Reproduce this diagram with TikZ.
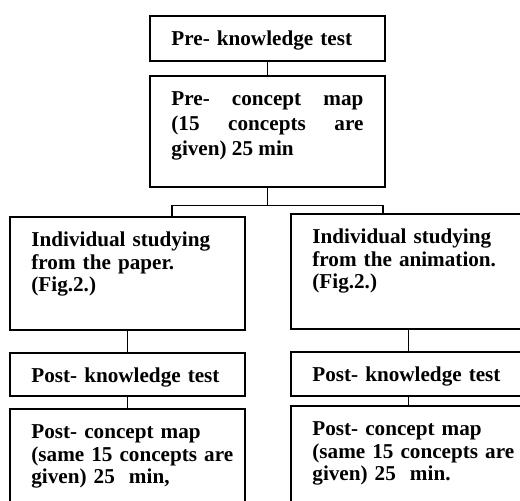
\documentclass[tikz,border=0pt]{standalone}
\usepackage{fontspec}
\setmainfont{Liberation Serif}
\usepackage{tikz}
\usetikzlibrary{calc,positioning}
\tikzset{
block/.style={
  rectangle,
  draw,
  line width=1.1pt,
  text width=115.2pt,
  inner xsep=12.9pt,
  inner ysep=0pt,
  text height=18pt,
  align=left,
  anchor=north west,
  font=\fontsize{12.7}{13.5}\selectfont\bfseries},
edge/.style={draw, line width=0.8pt}
}
\begin{document}
\begin{tikzpicture}[x=0.6pt,y=-0.6pt]
    \useasboundingbox (0,0) rectangle (520,501);
    \clip (0,0) rectangle (520,501);
    \node [block, text depth=9pt] (pre) at (149,15) {Pre- knowledge test};
    \node [block, below=7.8pt of pre.south west, anchor=north west, text depth=48.6pt, %
      align=justify, font=\fontsize{12.7}{15}\selectfont\bfseries] (premap)
      {Pre- concept map\linebreak (15 concepts are\linebreak given) 25 min};
    \node [block, text depth=49.8pt] (study_l) at (9,216) {Individual studying\\from the paper.\\(Fig.2.)};
    \node [block, text depth=51pt] (study_r) at (290,213) {Individual studying\\\mbox{from the animation.}\\(Fig.2.)};
    \node [block, below=12.6pt of study_l.south west, anchor=north west, text depth=7.8pt] (post_l) {Post- knowledge test};
    \node [block, below=12.6pt of study_r.south west, anchor=north west, text depth=8.4pt] (post_r) {Post- knowledge test};
    \node [block, below=6.6pt of post_l.south west, anchor=north west, text depth=90pt] (postmap_l)
      {Post- concept map\\\mbox{(same 15 concepts are}\\given) 25\ \ min,};
    \node [block, below=4.8pt of post_r.south west, anchor=north west, text depth=90pt] (postmap_r)
      {Post- concept map\\\mbox{(same 15 concepts are}\\given) 25\ \ min.};
    \coordinate (split) at ($(premap.south)+(0,18)$);
    \coordinate (drop_l) at ($(study_l.north west)+(163,0)$);
    \coordinate (drop_r) at ($(study_r.north west)+(93,0)$);
    \path [edge] (pre) -- (premap);
    \path [edge] (premap.south) -- (split);
    \path [edge] (drop_l) |- (split) -| (drop_r);
    \path [edge] (study_l) -- (post_l);
    \path [edge] (post_l) -- (postmap_l);
    \path [edge] (study_r) -- (post_r);
    \path [edge] (post_r) -- (postmap_r);
\end{tikzpicture}
\end{document}
